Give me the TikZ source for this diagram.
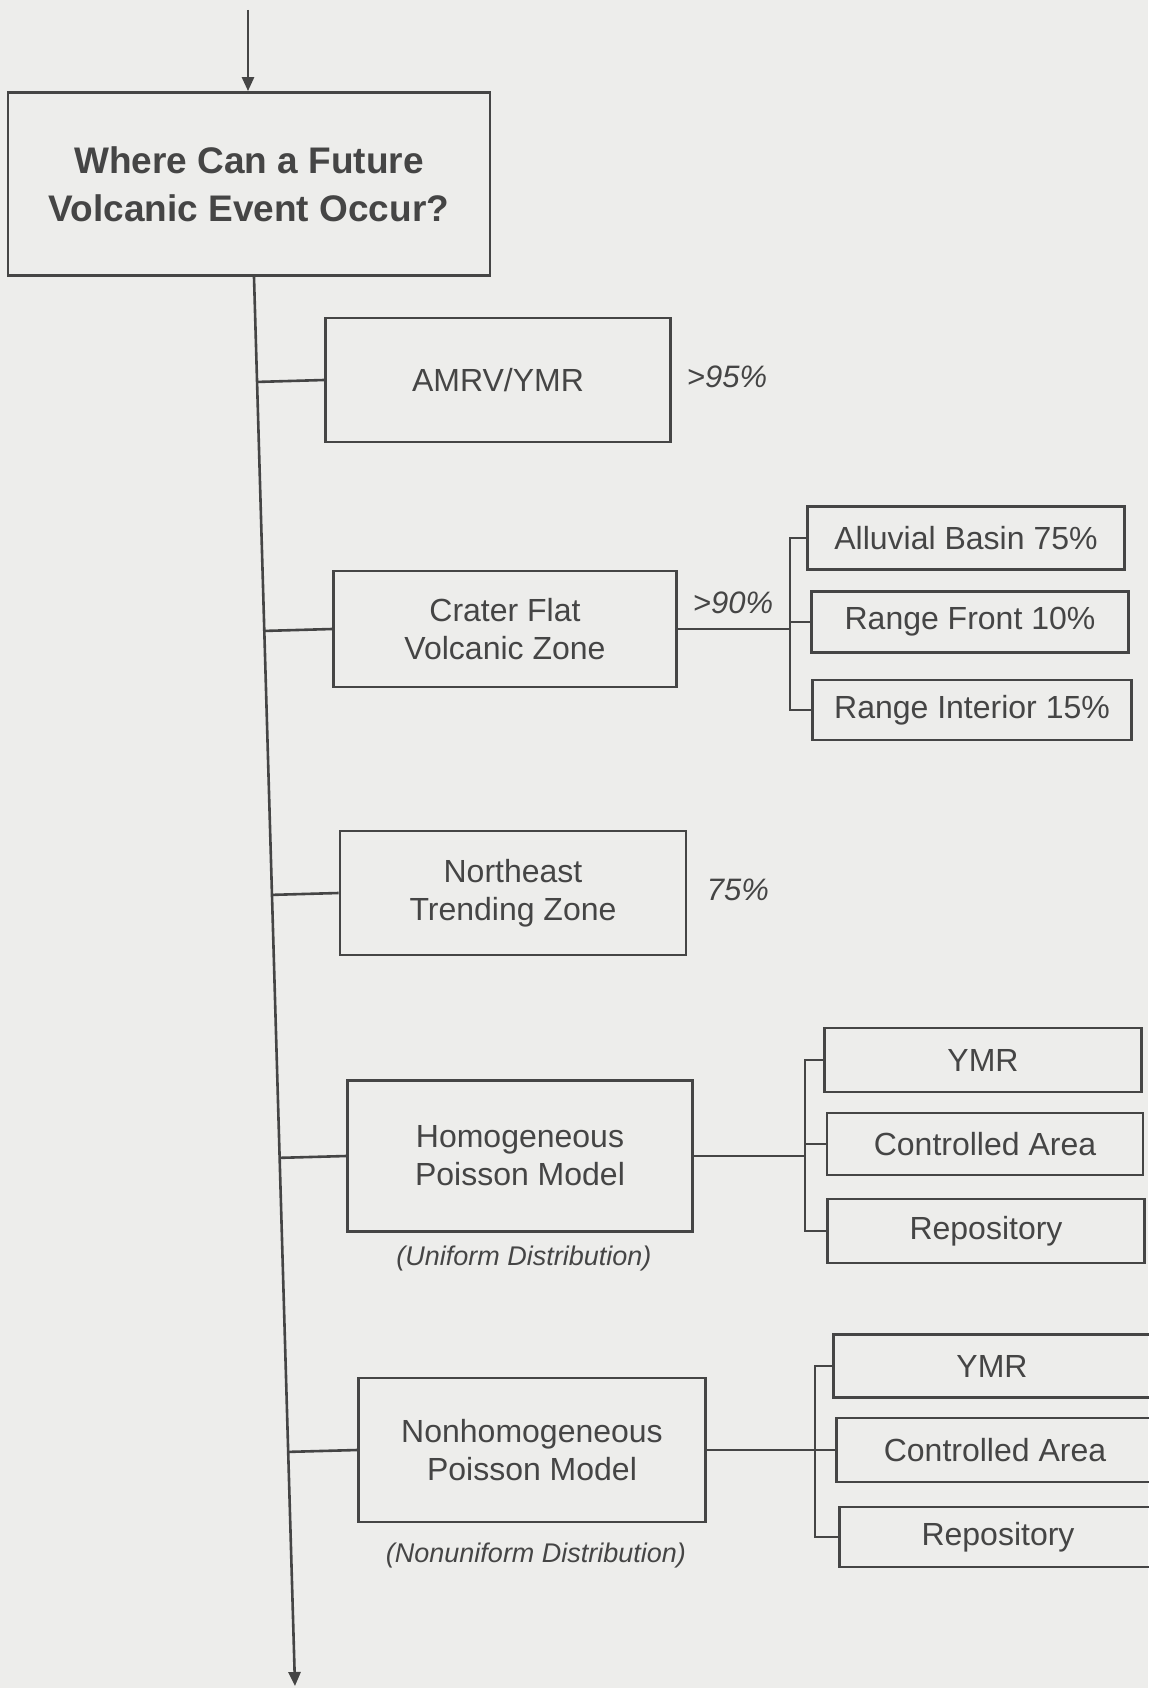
\documentclass[tikz,border=0pt]{standalone}
\usepackage{fontspec}
\setmainfont{Liberation Sans}
\usetikzlibrary{arrows.meta,calc}
\definecolor{paper}{HTML}{EDEDEB}
\definecolor{ink}{HTML}{454545}
\begin{document}
\begin{tikzpicture}[x=1pt,y=-1pt,
  every node/.style={text=ink},
  ln/.style={draw=ink,line width=2.6pt},
  arr/.style={ln,-{Triangle[length=14pt,width=12pt]}},
  box/.style={draw=ink,line width=2.8pt,rectangle,inner sep=0pt,align=center,
    font=\fontsize{32}{38}\selectfont},
  sub/.style={box,minimum width=317pt,minimum height=63pt},
  pct/.style={font=\fontsize{31}{36}\selectfont\itshape},
  note/.style={font=\fontsize{27}{32}\selectfont\itshape}]
\useasboundingbox (0,0) rectangle (1148,1688);
\fill[paper] (0,0) rectangle (1148,1688);

% main question
\node[box,font=\fontsize{37}{48}\selectfont\bfseries,minimum width=482pt,minimum height=183pt] (main) at (249,184) {Where Can a Future\\Volcanic Event Occur?};

% first level
\node[box,minimum width=345pt,minimum height=124pt] (amrv) at (498,380) {AMRV/YMR};
\node[box,minimum width=343pt,minimum height=116pt] (cfvz) at (505,629) {Crater Flat\\Volcanic Zone};
\node[box,minimum width=346pt,minimum height=124pt] (netz) at (513,893) {Northeast\\Trending Zone};
\node[box,minimum width=345pt,minimum height=151pt] (hpm) at (520,1156) {Homogeneous\\Poisson Model};
\node[box,minimum width=347pt,minimum height=144pt] (nhpm) at (532,1450) {Nonhomogeneous\\Poisson Model};

% labels
\node[pct] (p95) at (727,377) {>95\%};
\node[pct] (p90) at (733,603) {>90\%};
\node[pct] (p75) at (738,890) {75\%};
\node[note] (ud) at (524,1258) {(Uniform Distribution)};
\node[note] (nd) at (536,1555) {(Nonuniform Distribution)};

% sub boxes for Crater Flat
\node[sub] (al) at (966,538) {Alluvial Basin 75\%};
\node[sub,minimum height=61pt] (rf) at (970,622) {Range Front 10\%};
\node[sub,minimum height=60pt,minimum width=319pt] (ri) at (972,710) {Range Interior 15\%};

% sub boxes for homogeneous
\node[sub,minimum height=64pt] (y1) at (983,1060) {YMR};
\node[sub,minimum height=62pt,minimum width=316pt] (c1) at (985,1144) {Controlled Area};
\node[sub,minimum height=64pt] (r1) at (986,1231) {Repository};

% sub boxes for nonhomogeneous
\node[sub] (y2) at (992,1366) {YMR};
\node[sub,minimum height=64pt] (c2) at (995,1450) {Controlled Area};
\node[sub,minimum height=60pt] (r2) at (998,1537) {Repository};

% incoming arrow
\coordinate (in) at (248,10);
\draw[arr] (in) -- (in |- main.north);

% trunk
\coordinate (ttop) at ([xshift=5pt]main.south);
\coordinate (tbot) at (295,1686);
\draw[arr] (ttop) -- (tbot);
\foreach \n in {amrv,cfvz,netz,hpm,nhpm}{
  \draw[ln] ($(ttop)!(\n.west)!(tbot)$) -- (\n.west);
}

% bracket for Crater Flat
\coordinate (bx1) at (790,0);
\draw[ln] (cfvz.east) -- (cfvz.east -| bx1);
\draw[ln] (al.west) -- (al.west -| bx1) -- (ri.west -| bx1) -- (ri.west);
\draw[ln] (rf.west -| bx1) -- (rf.west);

% bracket for homogeneous
\coordinate (bx2) at (805,0);
\draw[ln] (hpm.east) -- (hpm.east -| bx2);
\draw[ln] (y1.west) -- (y1.west -| bx2) -- (r1.west -| bx2) -- (r1.west);
\draw[ln] (c1.west -| bx2) -- (c1.west);

% bracket for nonhomogeneous
\coordinate (bx3) at (815,0);
\draw[ln] (nhpm.east) -- (nhpm.east -| bx3);
\draw[ln] (y2.west) -- (y2.west -| bx3) -- (r2.west -| bx3) -- (r2.west);
\draw[ln] (c2.west -| bx3) -- (c2.west);
\end{tikzpicture}
\end{document}
